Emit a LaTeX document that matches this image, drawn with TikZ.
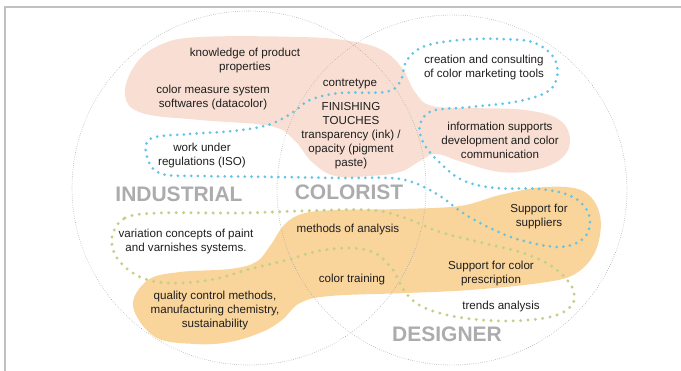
\documentclass[tikz,border=0pt]{standalone}
\usepackage{fontspec}
\setmainfont{Liberation Sans}
\definecolor{pinkfill}{RGB}{249,223,211}
\definecolor{orangefill}{RGB}{249,212,155}
\definecolor{dotblue}{RGB}{100,196,230}
\definecolor{dotgreen}{RGB}{196,208,136}
\definecolor{labelgray}{RGB}{172,172,174}
\definecolor{framegray}{RGB}{192,192,192}
\definecolor{circgray}{RGB}{165,165,165}
\definecolor{txtcol}{RGB}{30,30,30}
\tikzset{
  bluedots/.style={draw=dotblue, line width=3pt, line cap=round, dash pattern=on 0pt off 6.7pt},
  greendots/.style={draw=dotgreen, line width=3.3pt, line cap=round, dash pattern=on 0pt off 7.4pt},
  circdots/.style={draw=circgray, line width=0.8pt, line cap=round, dash pattern=on 0pt off 2.2pt},
  txt/.style={font=\fontsize{11.6}{14}\selectfont, align=center, text=txtcol, inner sep=0pt},
  biglabel/.style={font=\fontsize{21}{21}\selectfont\bfseries, text=labelgray, inner sep=0pt}
}
\begin{document}
\begin{tikzpicture}[x=1pt,y=-1pt]
\useasboundingbox (0,0) rectangle (681,371);
% frame
\draw[framegray, line width=1.6pt] (5,371) -- (5,7) -- (681,7);
% blobs
\fill[pinkfill] plot[smooth cycle, tension=0.65] coordinates {
 (125,95) (135,65) (160,45) (200,37) (300,37) (350,41) (382,50) (402,68) (415,92) (432,106)
 (475,108) (525,110) (558,119) (570,138) (562,158) (535,170) (500,172) (462,162) (436,154)
 (420,161) (400,172) (370,176) (335,176) (312,162) (294,140) (270,126) (200,120) (142,113)};
\fill[orangefill] plot[smooth cycle, tension=0.6] coordinates {
 (133,306) (148,280) (180,272) (230,269) (256,262) (270,246) (285,224) (305,213) (340,210)
 (400,209) (460,206) (500,195) (545,187) (583,191) (600,215) (596,250) (575,274) (540,283)
 (470,290) (407,293) (330,296) (300,303) (282,320) (262,332) (230,342) (195,344) (155,337)};
% circles
\draw[circdots] (249,188) circle[radius=177];
\draw[circdots] (452,190) circle[radius=175];
% green loop
\draw[greendots] plot[smooth cycle, tension=0.6] coordinates {
 (112,237) (125,218) (160,213) (240,213) (300,211) (370,210) (405,218) (440,232) (483,243)
 (523,253) (553,267) (572,287) (572,305) (550,317) (505,321) (457,317) (423,307) (405,292)
 (393,270) (375,253) (350,248) (318,251) (287,260) (250,269) (210,280) (167,283) (138,276) (117,258)};
% blue loop
\draw[bluedots] plot[smooth cycle, tension=0.6] coordinates {
 (150,139) (190,134) (233,131) (268,125) (292,113) (310,100) (340,93) (385,92) (400,82)
 (407,60) (425,46) (460,40) (500,39) (535,43) (556,62) (552,88) (520,101) (470,107) (432,111)
 (420,125) (423,142) (437,160) (462,180) (495,188) (540,189) (573,197) (589,215) (585,237)
 (560,247) (520,240) (490,228) (463,213) (440,196) (415,183) (390,178) (340,178) (280,177)
 (200,176) (162,174) (148,160)};
% texts
\node[txt] (t1) at (245,61) {knowledge of product\\properties};
\node[txt] (t2) at (213,98) {color measure system\\softwares (datacolor)};
\node[txt] (t3) at (350,84) {contretype};
\node[txt] (t4) at (351,136) {FINISHING\\TOUCHES\\transparency (ink) /\\opacity (pigment\\paste)};
\node[txt] (t5) at (484,68) {creation and consulting\\of color marketing tools};
\node[txt] (t6) at (500,140) {information supports\\development and color\\communication};
\node[txt] (t7) at (202,156) {work under\\regulations (ISO)};
\node[txt] (t8) at (186,242) {variation concepts of paint\\and varnishes systems.};
\node[txt] (t9) at (348,230) {methods of analysis};
\node[txt] (t10) at (352,280) {color training};
\node[txt] (t11) at (215,311) {quality control methods,\\manufacturing chemistry,\\sustainability};
\node[txt] (t12) at (539,217) {Support for\\suppliers};
\node[txt] (t13) at (491,274) {Support for color\\prescription};
\node[txt] (t14) at (501,307) {trends analysis};
\node[biglabel] (l1) at (179,194) {INDUSTRIAL};
\node[biglabel] (l2) at (349,192) {COLORIST};
\node[biglabel] (l3) at (447,334) {DESIGNER};
\end{tikzpicture}
\end{document}
